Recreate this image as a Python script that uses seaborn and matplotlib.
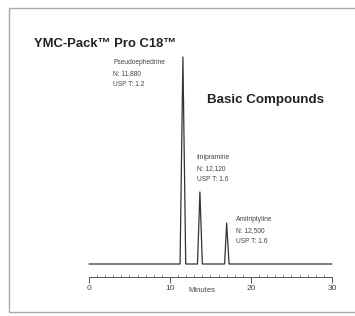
import matplotlib
matplotlib.use("Agg")
import numpy as np
import pandas as pd
import matplotlib.pyplot as plt
from matplotlib.patches import Rectangle
import seaborn as sns

# chromatogram: retention time (min) vs detector signal
times = [0.0, 11.25, 11.6, 11.95, 13.4, 13.7, 14.0, 16.75, 17.0, 17.3, 30.0]
signal = [0, 0, 207, 0, 0, 72, 0, 0, 41, 0, 0]

peak_names = ["Pseudoephedrine", "Imipramine", "Amitriptyline"]
peak_plates = ["N: 11,880", "N: 12,120", "N: 12,500"]
peak_tailing = ["USP T: 1.2", "USP T: 1.6", "USP T: 1.6"]
label_x = [3.0, 13.3, 18.1]
label_y = [205, 110, 48]

major_ticks = [0, 10, 20, 30]
tick_labels = ["0", "10", "20", "30"]

sns.set_style("white")
plt.rcParams["font.family"] = ["Liberation Sans", "DejaVu Sans"]

fig = plt.figure(figsize=(3.55, 3.16), dpi=100)
ax = fig.add_axes([10 / 355, 4 / 316, 345 / 355, 304 / 316])

df = pd.DataFrame({"time": times, "signal": signal})
sns.lineplot(data=df, x="time", y="signal", ax=ax, color="#333333", linewidth=0.9)

ax.set_xlim(-9.75, 32.85)
ax.set_ylim(-48, 256)

for s in ["top", "left", "right"]:
    ax.spines[s].set_visible(False)
ax.spines["bottom"].set_position(("data", -13))
ax.spines["bottom"].set_bounds(0, 30)
ax.spines["bottom"].set_color("#555555")
ax.spines["bottom"].set_linewidth(0.7)
ax.set_yticks([])
ax.set_xticks(major_ticks)
ax.set_xticklabels(tick_labels)
ax.set_xticks(np.arange(0, 31, 1), minor=True)
ax.tick_params(axis="x", which="major", direction="out", length=4, width=0.7,
               color="#555555", labelsize=6, labelcolor="#444444", pad=2,
               bottom=True)
ax.tick_params(axis="x", which="minor", direction="in", length=2, width=0.5,
               color="#777777", bottom=True)
ax.set_xlabel("")
ax.set_ylabel("")
ax.text(13.9, -27, "Minutes", ha="center", va="center", fontsize=5.5, color="#444444")

ax.text(-6.8, 220, "YMC-Pack\u2122 Pro C18\u2122", fontsize=9.4, fontweight="bold",
        color="#222222", va="center")
ax.text(14.6, 164, "Basic Compounds", fontsize=9.6, fontweight="bold",
        color="#222222", va="center")

for x, y, name, n, t in zip(label_x, label_y, peak_names, peak_plates, peak_tailing):
    ax.text(x, y, name + "\n" + n + "\n" + t, fontsize=4.8, color="#444444",
            va="top", ha="left", linespacing=1.8)

fig.patches.append(Rectangle((9 / 355, 4 / 316), 400 / 355, 304 / 316,
                             transform=fig.transFigure, fill=False,
                             edgecolor="#aaaaaa", linewidth=1.0))

fig.savefig("out.png", dpi=100)
